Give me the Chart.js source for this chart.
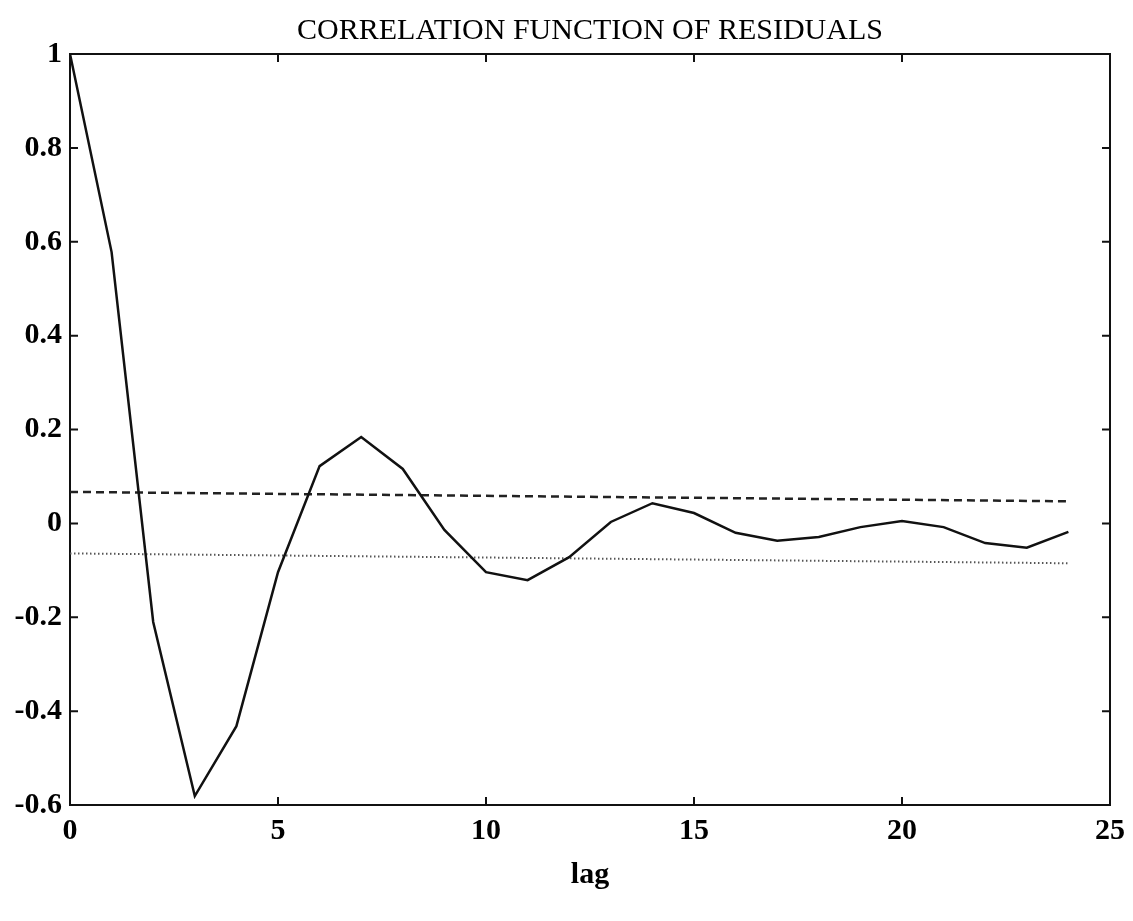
<!DOCTYPE html>
<html>
<head>
<meta charset="utf-8">
<title>Correlation function of residuals</title>
<script src="https://cdn.jsdelivr.net/npm/chart.js@4/dist/chart.umd.min.js"></script>
<style>
  html, body { margin: 0; padding: 0; background: #fff; }
  canvas { display: block; }
</style>
</head>
<body>
<canvas id="acfChart" width="1133" height="921"></canvas>
<script>
// data
const lags = [0, 1, 2, 3, 4, 5, 6, 7, 8, 9, 10, 11, 12, 13, 14, 15, 16, 17, 18, 19, 20, 21, 22, 23, 24];
const acf = [1.0, 0.578, -0.210, -0.581, -0.432, -0.104, 0.122, 0.184, 0.116, -0.014, -0.104, -0.121, -0.072,
             0.003, 0.043, 0.022, -0.020, -0.037, -0.029, -0.008, 0.005, -0.008, -0.042, -0.052, -0.018];

// confidence bounds (end points)
const boundLags = [0, 24];
const upperBound = [0.067, 0.047];
const lowerBound = [-0.064, -0.085];

const xTicks = [0, 5, 10, 15, 20, 25];
const yTicks = [-0.6, -0.4, -0.2, 0, 0.2, 0.4, 0.6, 0.8, 1];

const titleText = 'CORRELATION FUNCTION OF RESIDUALS';
const xLabel = 'lag';

const FONT = '"Liberation Serif", "Times New Roman", serif';

const toPoints = (xs, ys) => xs.map((x, i) => ({ x: x, y: ys[i] }));

// inward tick marks on all four sides, like the old matlab plots
const innerTicks = {
    id: 'innerTicks',
    afterDatasetsDraw(chart) {
        const { ctx, chartArea: a, scales } = chart;
        const len = 8;
        ctx.save();
        ctx.strokeStyle = '#111';
        ctx.lineWidth = 2;
        ctx.beginPath();
        xTicks.forEach(v => {
            if (v === 0 || v === 25) return;
            const px = scales.x.getPixelForValue(v);
            ctx.moveTo(px, a.bottom); ctx.lineTo(px, a.bottom - len);
            ctx.moveTo(px, a.top); ctx.lineTo(px, a.top + len);
        });
        yTicks.forEach(v => {
            if (v === -0.6 || v === 1) return;
            const py = scales.y.getPixelForValue(v);
            ctx.moveTo(a.left, py); ctx.lineTo(a.left + len, py);
            ctx.moveTo(a.right, py); ctx.lineTo(a.right - len, py);
        });
        ctx.stroke();
        ctx.restore();
    }
};

const ctx = document.getElementById('acfChart').getContext('2d');
new Chart(ctx, {
    type: 'line',
    data: {
        datasets: [
            {
                data: toPoints(lags, acf),
                borderColor: '#111',
                borderWidth: 2.5,
                pointRadius: 0,
                tension: 0
            },
            {
                data: toPoints(boundLags, upperBound),
                borderColor: '#222',
                borderWidth: 2.5,
                borderDash: [8, 5],
                pointRadius: 0
            },
            {
                data: toPoints(boundLags, lowerBound),
                borderColor: '#555',
                borderWidth: 2,
                borderDash: [1.5, 2.5],
                pointRadius: 0
            }
        ]
    },
    options: {
        responsive: false,
        animation: false,
        devicePixelRatio: 1,
        layout: { padding: 0 },
        plugins: {
            legend: { display: false },
            tooltip: { enabled: false }
        },
        scales: {
            x: {
                type: 'linear',
                position: 'bottom',
                min: 0,
                max: 25,
                afterBuildTicks: s => { s.ticks = xTicks.map(v => ({ value: v })); },
                afterFit: s => { s.height = 116; },
                grid: { display: false, drawTicks: false },
                border: { display: true, color: '#111', width: 2 },
                ticks: {
                    color: '#000',
                    padding: 8,
                    maxRotation: 0,
                    autoSkip: false,
                    font: { family: FONT, size: 30, weight: 'bold' },
                    callback: v => String(v)
                },
                title: {
                    display: true,
                    text: xLabel,
                    color: '#000',
                    font: { family: FONT, size: 30, weight: 'bold' },
                    padding: { top: 0, bottom: 28 }
                }
            },
            xTop: {
                type: 'linear',
                position: 'top',
                min: 0,
                max: 25,
                afterFit: s => { s.height = 54; },
                grid: { display: false, drawTicks: false },
                border: { display: true, color: '#111', width: 2 },
                ticks: { display: false },
                title: {
                    display: true,
                    text: titleText,
                    color: '#000',
                    font: { family: FONT, size: 30, weight: 'normal' },
                    padding: { top: 13, bottom: 0 }
                }
            },
            y: {
                type: 'linear',
                position: 'left',
                min: -0.6,
                max: 1,
                afterBuildTicks: s => { s.ticks = yTicks.map(v => ({ value: v })); },
                afterFit: s => { s.width = 70; },
                grid: { display: false, drawTicks: false },
                border: { display: true, color: '#111', width: 2 },
                ticks: {
                    color: '#000',
                    padding: 8,
                    autoSkip: false,
                    font: { family: FONT, size: 30, weight: 'bold' },
                    callback: v => String(v)
                }
            },
            yRight: {
                type: 'linear',
                position: 'right',
                min: -0.6,
                max: 1,
                afterFit: s => { s.width = 20; },
                grid: { display: false, drawTicks: false },
                border: { display: true, color: '#111', width: 2 },
                ticks: { display: false }
            }
        }
    },
    plugins: [innerTicks]
});
</script>
</body>
</html>
